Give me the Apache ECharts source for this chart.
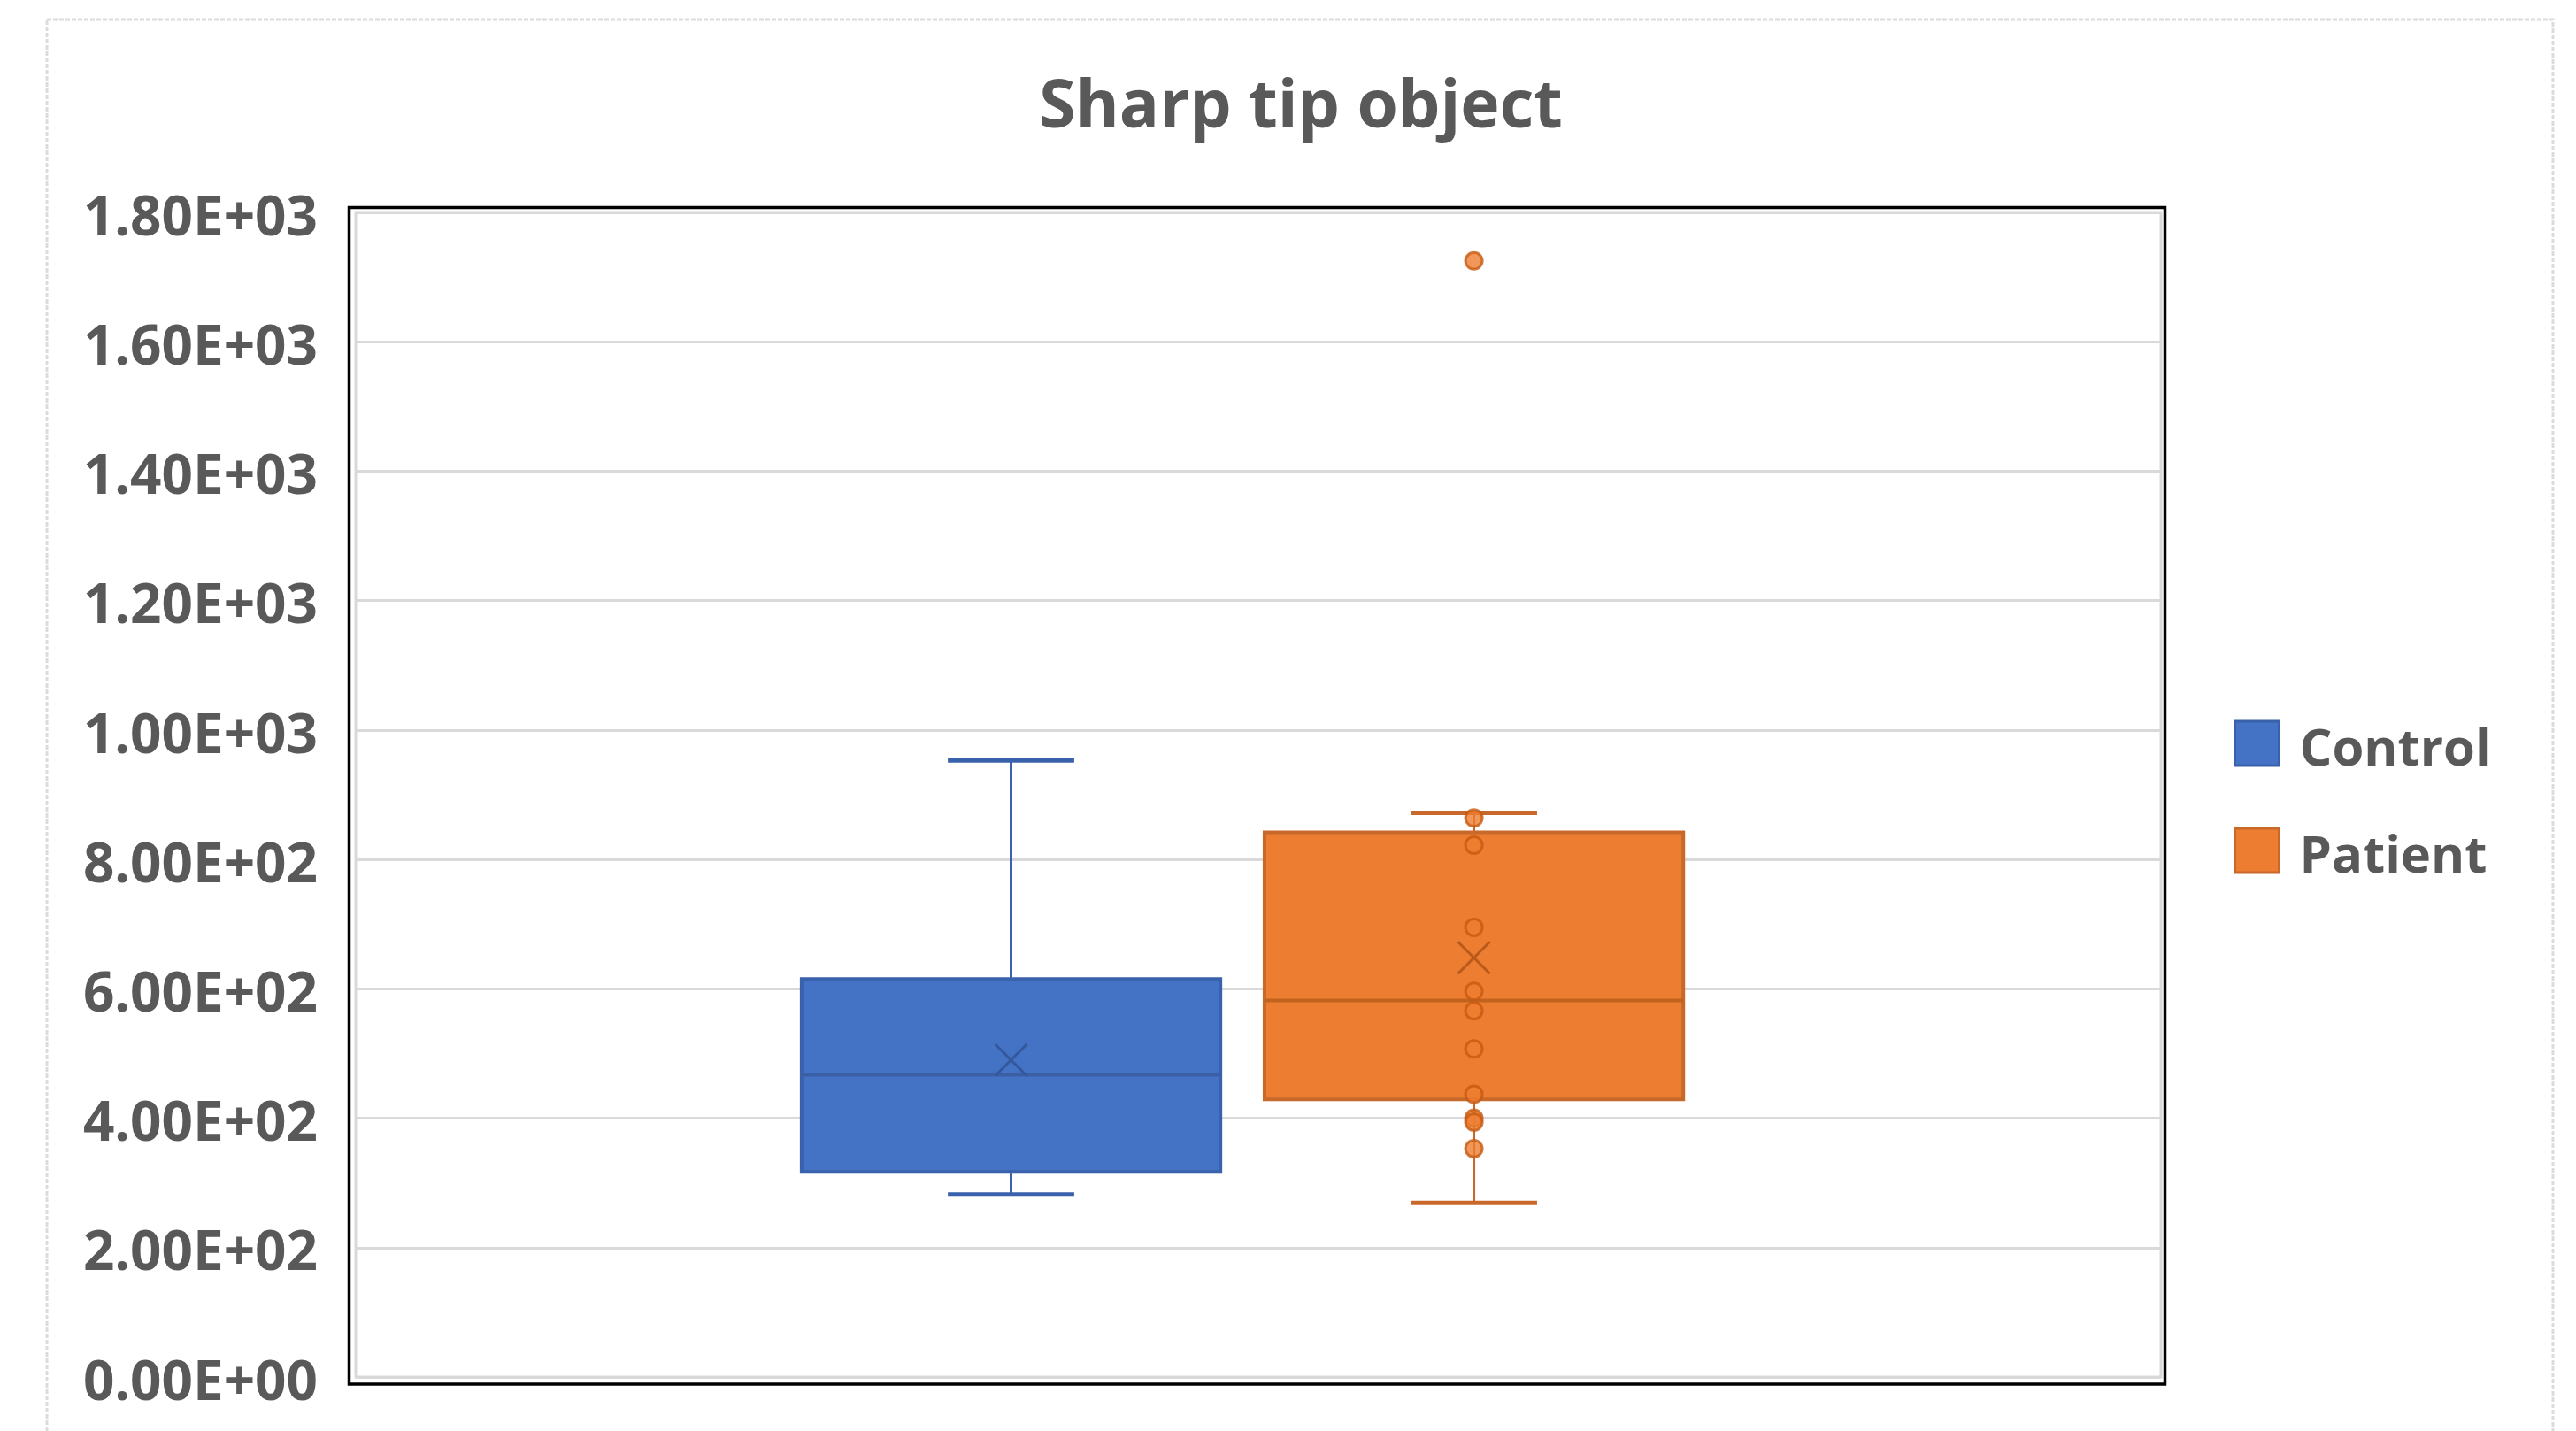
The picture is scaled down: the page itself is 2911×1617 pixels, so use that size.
<!DOCTYPE html>
<html>
<head>
<meta charset="utf-8">
<script src="https://cdn.jsdelivr.net/npm/echarts@6/dist/echarts.min.js"></script>
<style>
  html, body { margin: 0; padding: 0; background: #ffffff; }
  #chart { width: 2911px; height: 1617px; }
</style>
</head>
<body>
<div id="chart"></div>
<script>
// ---------------- data ----------------
const TITLE = 'Sharp tip object';
const CATEGORIES = [''];
const SERIES_NAMES = ['Control', 'Patient'];
// five-number summaries: [min, Q1, median, Q3, max]
const CONTROL_BOX = [282, 317, 467, 615, 953];
const PATIENT_BOX = [269, 429, 582, 842, 872];
const CONTROL_MEAN = 490;
const PATIENT_MEAN = 648;
const PATIENT_POINTS = [864, 822, 695, 596, 566, 507, 437, 400, 394, 353];
const PATIENT_OUTLIERS = [1725];
const Y_MIN = 0, Y_MAX = 1800, Y_STEP = 200;
const Y_TICK_LABELS = ['0.00E+00', '2.00E+02', '4.00E+02', '6.00E+02', '8.00E+02',
                       '1.00E+03', '1.20E+03', '1.40E+03', '1.60E+03', '1.80E+03'];

// ---------------- layout / style ----------------
const FONT = "'Open Sans', 'Noto Sans', sans-serif";
const TEXT_COLOR = '#595959';
const GRID = { left: 402, top: 240, width: 2040, height: 1316 };
const BOX_W = 0.232;      // fraction of category band
const CAP_W = 0.07;
const OFFSETS = { Control: -0.137, Patient: 0.1194 };
const STYLE = {
  Control: { fill: '#4472C4', stroke: '#3A62AC', median: '#3A5FA5', mean: '#34589C' },
  Patient: { fill: '#ED7D31', stroke: '#C8692B', median: '#C2621F', mean: '#B9591A' }
};

function boxRenderer(name) {
  const off = OFFSETS[name], st = STYLE[name];
  return function (params, api) {
    const cat = api.value(0);
    const band = api.size([1, 0], [cat, 0])[0];
    const cx = api.coord([cat, 0])[0] + band * off;
    const w = band * BOX_W, cw = band * CAP_W;
    const y = i => api.coord([cat, api.value(i)])[1];
    const yMin = y(1), yQ1 = y(2), yMed = y(3), yQ3 = y(4), yMax = y(5), yMean = y(6);
    const ln = (x1, y1, x2, y2, color, width) => ({
      type: 'line', shape: { x1, y1, x2, y2 },
      style: { stroke: color, lineWidth: width, fill: null }
    });
    const m = 18;
    return {
      type: 'group',
      children: [
        ln(cx, yMax, cx, yQ3, st.stroke, 3),
        ln(cx, yQ1, cx, yMin, st.stroke, 3),
        ln(cx - cw / 2, yMax, cx + cw / 2, yMax, st.stroke, 5),
        ln(cx - cw / 2, yMin, cx + cw / 2, yMin, st.stroke, 5),
        {
          type: 'rect',
          shape: { x: cx - w / 2, y: yQ3, width: w, height: yQ1 - yQ3 },
          style: { fill: st.fill, stroke: st.stroke, lineWidth: 4 }
        },
        ln(cx - w / 2, yMed, cx + w / 2, yMed, st.median, 4),
        ln(cx - m, yMean - m, cx + m, yMean + m, st.mean, 3),
        ln(cx - m, yMean + m, cx + m, yMean - m, st.mean, 3)
      ]
    };
  };
}

const pointStyle = {
  color: STYLE.Patient.fill, borderColor: '#C55A11', borderWidth: 3
};

const chart = echarts.init(document.getElementById('chart'), null, { renderer: 'canvas' });

const option = {
  backgroundColor: '#ffffff',
  animation: false,
  title: {
    text: TITLE,
    left: 1470, top: 123,
    textAlign: 'center', textVerticalAlign: 'middle',
    padding: 0,
    textStyle: { fontFamily: FONT, fontSize: 75, fontWeight: 'bold', color: TEXT_COLOR }
  },
  legend: {
    orient: 'vertical',
    left: 2524, top: 803,
    padding: 0,
    itemWidth: 50, itemHeight: 50, itemGap: 47,
    icon: 'rect',
    formatter: name => '{t|' + name + '}',
    textStyle: {
      fontFamily: FONT, fontSize: 58, fontWeight: 'bold', color: TEXT_COLOR,
      rich: {
        t: {
          fontFamily: FONT, fontSize: 58, fontWeight: 'bold', color: TEXT_COLOR,
          lineHeight: 50, padding: [16, 0, 0, 18]
        }
      }
    },
    data: SERIES_NAMES.map(n => ({
      name: n,
      itemStyle: { color: STYLE[n].fill, borderColor: STYLE[n].stroke, borderWidth: 3 }
    }))
  },
  grid: {
    left: GRID.left, top: GRID.top, width: GRID.width, height: GRID.height,
    show: true, borderColor: '#d9d9d9', borderWidth: 3, containLabel: false
  },
  xAxis: {
    type: 'category', data: CATEGORIES,
    axisLine: { show: false }, axisTick: { show: false }, axisLabel: { show: false },
    splitLine: { show: false }
  },
  yAxis: {
    type: 'value', min: Y_MIN, max: Y_MAX, interval: Y_STEP,
    axisLine: { show: false }, axisTick: { show: false },
    splitLine: { lineStyle: { color: '#d9d9d9', width: 3 } },
    axisLabel: {
      formatter: v => Y_TICK_LABELS[Math.round((v - Y_MIN) / Y_STEP)],
      margin: 43, fontFamily: FONT, fontSize: 62, fontWeight: 'bold', color: TEXT_COLOR,
      verticalAlign: 'top', lineHeight: 16
    }
  },
  graphic: [
    {
      type: 'rect', z: -10, silent: true,
      shape: { x: 53, y: 22, width: 2832, height: 1700 },
      style: { fill: null, stroke: '#dcdcdc', lineWidth: 3, lineDash: [5, 2] }
    },
    {
      type: 'rect', z: 50, silent: true,
      shape: { x: GRID.left - 7.5, y: GRID.top - 5.5, width: GRID.width + 12, height: GRID.height + 13.5 },
      style: { fill: null, stroke: '#000000', lineWidth: 3.5 }
    }
  ],
  series: [
    {
      name: 'Control', type: 'custom',
      itemStyle: { color: STYLE.Control.fill, borderColor: STYLE.Control.stroke },
      encode: { x: 0, y: [1, 2, 3, 4, 5, 6] },
      renderItem: boxRenderer('Control'),
      data: [[0].concat(CONTROL_BOX, [CONTROL_MEAN])],
      z: 2
    },
    {
      name: 'Patient', type: 'custom',
      itemStyle: { color: STYLE.Patient.fill, borderColor: STYLE.Patient.stroke },
      encode: { x: 0, y: [1, 2, 3, 4, 5, 6] },
      renderItem: boxRenderer('Patient'),
      data: [[0].concat(PATIENT_BOX, [PATIENT_MEAN])],
      z: 2
    },
    {
      name: 'Patient', type: 'scatter',
      symbol: 'circle', symbolSize: 19,
      symbolOffset: [GRID.width * OFFSETS.Patient, 0],
      itemStyle: pointStyle,
      data: PATIENT_POINTS.concat(PATIENT_OUTLIERS).map(v => [0, v]),
      z: 3
    }
  ]
};

chart.setOption(option);
</script>
</body>
</html>
